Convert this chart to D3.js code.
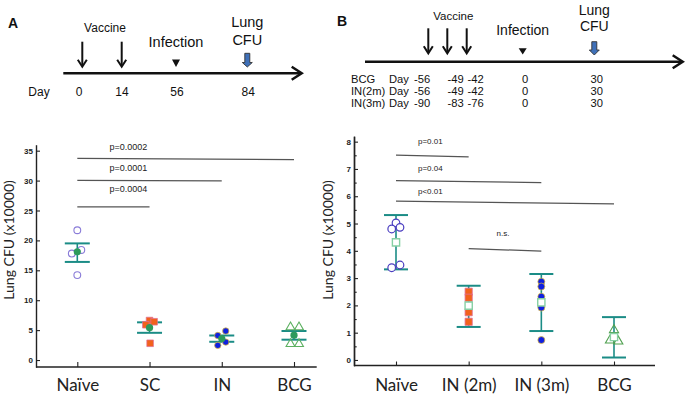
<!DOCTYPE html>
<html><head><meta charset="utf-8">
<script src="https://cdn.jsdelivr.net/npm/d3@7"></script>
<style>
html,body{margin:0;padding:0;background:#fff;}
svg{display:block;}
</style></head><body>
<svg id="chart" width="686" height="398"></svg>
<script>
// ---------------- data ----------------
const catsA = ["Naïve", "SC", "IN", "BCG"];
const naiveA = [21.7, 17.8, 18.4, 14.2];
const scA = [6.6, 5.9, 6.4, 2.8];
const inA = [4.1, 4.85, 3.0, 2.45];
const bcgA = [5.5, 5.5, 2.7, 2.7];
const meansA = [18.1, 5.4, 3.6, 4.15];
const errHiA = [19.5, 6.3, 4.1, 4.85];
const errLoA = [16.4, 4.55, 3.05, 3.4];
const ticksA = [0, 5, 10, 15, 20, 25, 30, 35];
const pLabelsA = ["p=0.0002", "p=0.0001", "p=0.0004"];
const pFromA = [0, 0, 0];
const pToA = [3, 2, 1];
const pY1A = [33.7, 30.05, 25.6];
const pY2A = [33.5, 29.95, 25.6];
const pTextYA = [35.7, 32.1, 28.6];

const catsB = ["Naïve", "IN (2m)", "IN (3m)", "BCG"];
const naiveB = [5.02, 4.8, 4.86, 3.38, 3.48];
const in2B = [2.5, 2.28, 1.75, 1.4];
const in3B = [2.87, 2.69, 2.32, 1.92, 0.73];
const bcgB = [1.1, 0.72, 0.68];
const meansB = [4.31, 1.99, 2.11, 0.84];
const errHiB = [5.31, 2.72, 3.15, 1.57];
const errLoB = [3.32, 1.21, 1.06, 0.09];
const ticksB = [0, 1, 2, 3, 4, 5, 6, 7, 8];
const minorTicksB = [0.5, 1.5, 2.5, 3.5, 4.5, 5.5, 6.5, 7.5];
const pLabelsB = ["p=0.01", "p=0.04", "p<0.01", "n.s."];
const pFromB = [0, 0, 0, 1];
const pToB = [1, 2, 3, 2];
const pY1B = [7.51, 6.57, 5.82, 4.08];
const pY2B = [7.44, 6.50, 5.72, 3.99];
const pTextYB = [8.0, 7.02, 6.17, 4.64];

const yLabel = "Lung CFU (x10000)";
const timelineDaysA = ["0", "14", "56", "84"];
const groupsB = ["BCG", "IN(2m)", "IN(3m)"];
const vacDaysB = [["-56", "-49", "-42"], ["-56", "-49", "-42"], ["-90", "-83", "-76"]];
const infDayB = "0";
const cfuDayB = "30";

// ---------------- layout (pixels) ----------------
const jitA = [[0, -5.5, 4, 0], [0, -3.7, 4.6, 0.6], [-4, 4, 4, -4], [-3.5, 5, -3.5, 5]];
const jitB = [[0, -4.3, 4, -4.3, 4], [0, 0, 0, 0], [0, 0, 0, 0, 0], [0, -4, 4.3]];

const SANS = "'Liberation Sans', Arial, sans-serif";
const CAT = "Lato, 'Open Sans', sans-serif";
const TEAL = "#1b8c86";
const INK = "#111";

const svg = d3.select("#chart");

// scales
const xA = d3.scalePoint().domain(catsA).range([77.3, 294]);
const yA = d3.scaleLinear().domain([-1.2, 36]).range([367.2, 144.7]);
const xB = d3.scalePoint().domain(catsB).range([396, 614]);
const yB = d3.scaleLinear().domain([-0.21, 8.2]).range([365.7, 136.2]);

// ---------- helpers ----------
function styleAxis(g, fs) {
  g.selectAll("path.domain").attr("stroke", "#222").attr("stroke-width", 1.4);
  g.selectAll(".tick line").attr("stroke", "#222").attr("stroke-width", 1.1);
  g.selectAll(".tick text").attr("font-family", SANS).attr("font-size", fs)
    .attr("font-weight", "bold").attr("fill", "#222");
}
function vArrow(g, x, y0, y1) {
  g.append("line").attr("x1", x).attr("x2", x).attr("y1", y0).attr("y2", y1 - 1)
    .attr("stroke", INK).attr("stroke-width", 2);
  g.append("path").attr("d", `M${x - 4.5},${y1 - 7}L${x},${y1}L${x + 4.5},${y1 - 7}`)
    .attr("fill", "none").attr("stroke", INK).attr("stroke-width", 2);
}
function infTri(g, x, y0, y1) {
  g.append("path").attr("d", `M${x - 4},${y0}H${x + 4}L${x},${y1}Z`).attr("fill", INK);
}
function blockArrow(g, x, yTop, yNeck, yTip) {
  g.append("path")
    .attr("d", `M${x - 2.5},${yTop}H${x + 2.5}V${yNeck}H${x + 5}L${x},${yTip}L${x - 5},${yNeck}H${x - 2.5}Z`)
    .attr("fill", "#3f70b8").attr("stroke", "#333").attr("stroke-width", 0.9);
}
function hArrow(g, x0, x1, y) {
  g.append("line").attr("x1", x0).attr("x2", x1 - 1).attr("y1", y).attr("y2", y)
    .attr("stroke", INK).attr("stroke-width", 2.5);
  g.append("path").attr("d", `M${x1 - 10},${y - 6.5}L${x1},${y}L${x1 - 10},${y + 6.5}`)
    .attr("fill", "none").attr("stroke", INK).attr("stroke-width", 2.5);
}
function txt(g, x, y, s, fs, anchor, weight, fam) {
  return g.append("text").attr("x", x).attr("y", y).text(s)
    .attr("font-family", fam || SANS).attr("font-size", fs)
    .attr("text-anchor", anchor || "middle").attr("font-weight", weight || "normal")
    .attr("fill", INK);
}
function errBars(g, x, y, cats, hi, lo, capW) {
  cats.forEach((c, i) => {
    const cx = x(c);
    g.append("line").attr("x1", cx).attr("x2", cx).attr("y1", y(hi[i])).attr("y2", y(lo[i]))
      .attr("stroke", TEAL).attr("stroke-width", 1.6);
    [hi[i], lo[i]].forEach(v => g.append("line")
      .attr("x1", cx - capW).attr("x2", cx + capW).attr("y1", y(v)).attr("y2", y(v))
      .attr("stroke", TEAL).attr("stroke-width", 2));
  });
}
function points(g, cx, y, vals, jit, kind, st) {
  vals.forEach((v, i) => {
    const px = cx + jit[i], py = y(v);
    if (kind === "circle") {
      g.append("circle").attr("cx", px).attr("cy", py).attr("r", st.r)
        .attr("fill", st.fill).attr("stroke", st.stroke).attr("stroke-width", st.sw);
    } else {
      const sym = kind === "square" ? d3.symbolSquare : d3.symbolTriangle;
      g.append("path").attr("d", d3.symbol(sym, st.size)())
        .attr("transform", `translate(${px},${py})`)
        .attr("fill", st.fill).attr("stroke", st.stroke).attr("stroke-width", st.sw);
    }
  });
}
function pLines(g, x, y, cats, from, to, y1, y2, ty, labels, fs, dx) {
  labels.forEach((lab, i) => {
    const xa = x(cats[from[i]]), xb = x(cats[to[i]]);
    g.append("line").attr("x1", xa).attr("x2", xb).attr("y1", y(y1[i])).attr("y2", y(y2[i]))
      .attr("stroke", "#555").attr("stroke-width", 1.3);
    const mid = (x(cats[from[i]]) + x(cats[from[i] + 1])) / 2 + dx;
    g.append("text").attr("x", mid).attr("y", y(ty[i])).attr("dy", "0.35em")
      .attr("text-anchor", "middle").attr("font-family", SANS).attr("font-size", fs)
      .attr("fill", "#222").text(lab);
  });
}

// ================= PANEL A =================
const gA = svg.append("g");
txt(gA, 8, 28.3, "A", 14, "start", "bold");
// timeline
hArrow(gA, 63.3, 301.7, 73.3);
[82.3, 121.7].forEach(x => vArrow(gA, x, 41.7, 66.7));
txt(gA, 105, 31.7, "Vaccine", 12);
txt(gA, 176, 46.5, "Infection", 14.5);
infTri(gA, 176, 59.5, 67);
txt(gA, 247.3, 27.3, "Lung", 14.5);
txt(gA, 247.3, 45, "CFU", 14.5);
blockArrow(gA, 247.3, 53.3, 62.5, 67);
txt(gA, 39, 96, "Day", 12);
const dayXA = [79, 122, 177, 248.3];
timelineDaysA.forEach((d, i) => txt(gA, dayXA[i], 96, d, 12));

// axes
gA.append("g").attr("transform", "translate(36,0)")
  .call(d3.axisLeft(yA).tickValues(ticksA).tickSize(-4).tickSizeOuter(0).tickPadding(3))
  .call(g => styleAxis(g, 8));
gA.append("g").attr("transform", "translate(0,367)")
  .call(d3.axisBottom(xA).tickSize(-5).tickPadding(12))
  .call(g => {
    g.select(".domain").remove();
    g.selectAll(".tick line").attr("stroke", "#222").attr("stroke-width", 1.1);
    g.selectAll(".tick text").attr("font-family", CAT).attr("font-size", 17).attr("fill", "#222");
  });
gA.append("line").attr("x1", 36).attr("x2", 316.7).attr("y1", 367).attr("y2", 367)
  .attr("stroke", "#222").attr("stroke-width", 1.4);
txt(gA, 0, 0, yLabel, 14, "middle", "normal", CAT)
  .attr("transform", "translate(13.5,240) rotate(-90)").attr("fill", "#222");

pLines(gA, xA, yA, catsA, pFromA, pToA, pY1A, pY2A, pTextYA, pLabelsA, 9, 15);

// data A
errBars(gA, xA, yA, catsA, errHiA, errLoA, 12.5);
points(gA, xA(catsA[0]), yA, naiveA, jitA[0], "circle", { r: 3.4, fill: "#fff", stroke: "#8a7cd8", sw: 1.1 });
points(gA, xA(catsA[1]), yA, scA, jitA[1], "square", { size: 44, fill: "#f2621c", stroke: "#e0709a", sw: 0.7 });
points(gA, xA(catsA[2]), yA, inA, jitA[2], "circle", { r: 3.2, fill: "#1020e0", stroke: "#e8c030", sw: 0.7 });
points(gA, xA(catsA[3]), yA, bcgA, jitA[3], "triangle", { size: 34, fill: "none", stroke: "#5cb060", sw: 1.1 });
catsA.forEach((c, i) => gA.append("circle").attr("cx", xA(c)).attr("cy", yA(meansA[i])).attr("r", 3.6)
  .attr("fill", "#2e9a5c"));

// ================= PANEL B =================
const gB = svg.append("g");
txt(gB, 337, 25.5, "B", 14, "start", "bold");
hArrow(gB, 365, 682.7, 61.7);
[428.3, 447.3, 466.7].forEach(x => vArrow(gB, x, 28.3, 53.3));
txt(gB, 453.3, 20, "Vaccine", 11.5);
txt(gB, 522.7, 35, "Infection", 14);
infTri(gB, 522.7, 48.3, 54.5);
txt(gB, 594.3, 15, "Lung", 14);
txt(gB, 594.3, 30.7, "CFU", 14);
blockArrow(gB, 594.3, 41.7, 50, 55);
const rowY = [83.3, 95, 106.7];
const vacXB = [414, 447.5, 467.5];
groupsB.forEach((gname, r) => {
  txt(gB, 351, rowY[r], gname, 11.2, "start");
  txt(gB, 389, rowY[r], "Day", 11.2, "start");
  vacDaysB[r].forEach((d, k) => txt(gB, vacXB[k], rowY[r], d, 11.2, "start"));
  txt(gB, 525, rowY[r], infDayB, 11.2);
  txt(gB, 596.7, rowY[r], cfuDayB, 11.2);
});

gB.append("g").attr("transform", "translate(354,0)")
  .call(d3.axisLeft(yB).tickValues(minorTicksB).tickSize(-2.7).tickSizeOuter(0).tickFormat(""))
  .call(g => styleAxis(g, 8));
gB.append("g").attr("transform", "translate(354,0)")
  .call(d3.axisLeft(yB).tickValues(ticksB).tickSize(-4).tickSizeOuter(0).tickPadding(3))
  .call(g => styleAxis(g, 8));
gB.append("g").attr("transform", "translate(0,365.5)")
  .call(d3.axisBottom(xB).tickSize(-4).tickPadding(13))
  .call(g => {
    g.select(".domain").remove();
    g.selectAll(".tick line").attr("stroke", "#222").attr("stroke-width", 1.1);
    g.selectAll(".tick text").attr("font-family", CAT).attr("font-size", 17).attr("fill", "#222");
  });
gB.append("line").attr("x1", 354).attr("x2", 655).attr("y1", 365.5).attr("y2", 365.5)
  .attr("stroke", "#222").attr("stroke-width", 1.4);
txt(gB, 0, 0, yLabel, 14, "middle", "normal", CAT)
  .attr("transform", "translate(333,240) rotate(-90)").attr("fill", "#222");

pLines(gB, xB, yB, catsB, pFromB, pToB, pY1B, pY2B, pTextYB, pLabelsB, 8, -2);

errBars(gB, xB, yB, catsB, errHiB, errLoB, 12);
points(gB, xB(catsB[0]), yB, naiveB, jitB[0], "circle", { r: 3.8, fill: "#fff", stroke: "#4a3dc0", sw: 1.2 });
points(gB, xB(catsB[1]), yB, in2B, jitB[1], "square", { size: 52, fill: "#f2621c", stroke: "#e0709a", sw: 0.8 });
points(gB, xB(catsB[2]), yB, in3B, jitB[2], "circle", { r: 3.5, fill: "#1020e0", stroke: "#e8c030", sw: 0.7 });
points(gB, xB(catsB[3]), yB, bcgB, jitB[3], "triangle", { size: 36, fill: "none", stroke: "#4fa04f", sw: 1.1 });
catsB.forEach((c, i) => gB.append("path").attr("d", d3.symbol(d3.symbolSquare, 52)())
  .attr("transform", `translate(${xB(c)},${yB(meansB[i])})`)
  .attr("fill", "#fff").attr("stroke", "#86d0a4").attr("stroke-width", 1.4));
</script>
</body></html>
